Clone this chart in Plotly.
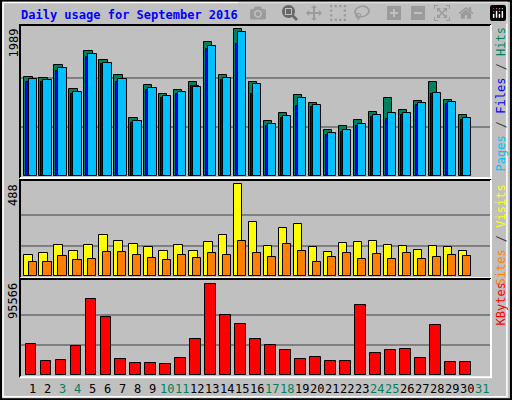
import plotly.graph_objects as go

days = list(range(1, 31))
hits = [1338, 1325, 1501, 1176, 1691, 1569, 1366, 782, 1230, 1108, 1162, 1271, 1813, 1366, 1989,
        1271, 742, 850, 1094, 986, 620, 674, 755, 864, 1054, 891, 1013, 1271, 1027, 823]
files = [1280, 1270, 1430, 1105, 1620, 1517, 1280, 715, 1160, 1055, 1105, 1216, 1720, 1295, 1790,
         1112, 675, 780, 949, 930, 555, 595, 675, 795, 773, 825, 960, 1112, 970, 755]
pages = [1311, 1298, 1460, 1135, 1650, 1528, 1311, 742, 1189, 1081, 1135, 1203, 1759, 1325, 1949,
         1243, 701, 810, 1054, 959, 579, 620, 701, 823, 850, 850, 986, 1121, 999, 782]
visits = [111, 122, 164, 133, 164, 217, 186, 170, 154, 133, 164, 133, 180, 217, 488,
          286, 159, 255, 276, 154, 127, 175, 180, 186, 164, 159, 138, 159, 154, 133]
sites = [74, 74, 106, 85, 90, 127, 127, 111, 95, 85, 111, 95, 122, 111, 186,
         122, 101, 170, 133, 74, 101, 122, 90, 117, 90, 122, 90, 101, 111, 106]
kbytes = [32550, 14700, 15750, 30450, 79800, 60900, 16800, 12600, 12600, 11550, 17850, 37800, 95566, 63000, 53550,
          37800, 31500, 26250, 16800, 18900, 14700, 14700, 73500, 23100, 26250, 27300, 17850, 52500, 13650, 13650]
day_labels = [str(d) for d in range(1, 32)]
weekend = [3, 4, 10, 11, 17, 18, 24, 25, 31]

W, H = 512, 400
def py(p):  # pixel row -> paper y
    return 1 - p / H

GRAY = '#C0C0C0'
MONO = 'DejaVu Sans Mono'

fig = go.Figure()
bar_line = dict(color='black', width=1)

def bars(y, color, offset, width, axis):
    fig.add_trace(go.Bar(x=days, y=y, marker=dict(color=color, line=bar_line),
                         offset=offset, width=width, xaxis='x' + axis, yaxis='y' + axis,
                         showlegend=False, hoverinfo='skip'))

bars(hits, '#00805C', -0.55, 0.55, '')
bars(files, '#0000FF', -0.42, 0.55, '')
bars(pages, '#00C0FF', -0.28, 0.55, '')
bars(visits, '#FFFF00', -0.55, 0.56, '2')
bars(sites, '#FF8000', -0.28, 0.54, '2')
bars(kbytes, '#FF0000', -0.47, 0.72, '3')

xr = [0.152, 31.61]
xdom = [20 / W, 491 / W]
panels = [('', (25, 176), 1989, 2047), ('2', (180, 276.3), 488, 511), ('3', (279, 375.3), 95566, 101130)]
layout = {}
for ax, (top, bot), mx, rmax in panels:
    layout['xaxis' + ax] = dict(domain=xdom, range=xr, showticklabels=False, showgrid=False,
                                zeroline=False, anchor='y' + ax, fixedrange=True)
    layout['yaxis' + ax] = dict(domain=[py(bot), py(top)], range=[0, rmax], tickvals=[mx / 3, 2 * mx / 3],
                                showticklabels=False, gridcolor='#808080', gridwidth=1.5,
                                zeroline=False, anchor='x' + ax)

fig.update_layout(width=W, height=H, margin=dict(l=0, r=0, t=0, b=0), paper_bgcolor=GRAY,
                  plot_bgcolor=GRAY, barmode='overlay', bargap=0, **layout)

shapes = []
# outer 3D border
shapes.append(dict(type='rect', xref='paper', yref='paper', x0=0.002, x1=0.998, y0=0.002, y1=0.998,
                   line=dict(color='black', width=2)))
shapes.append(dict(type='rect', xref='paper', yref='paper', x0=0.006, x1=0.99, y0=0.008, y1=0.994,
                   line=dict(color='white', width=1.5)))
for ax, (top, bot), mx, rmax in panels:
    bottom = bot + 2
    shapes.append(dict(type='path', xref='paper', yref='paper',
                       path=f'M {xdom[0]},{py(bottom)} L {xdom[0]},{py(top)} L {xdom[1]},{py(top)}',
                       line=dict(color='black', width=2)))
    shapes.append(dict(type='path', xref='paper', yref='paper',
                       path=f'M {xdom[1]},{py(top)} L {xdom[1]},{py(bottom)} L {xdom[0]},{py(bottom)}',
                       line=dict(color='white', width=2)))
fig.update_layout(shapes=shapes)

ann = []
ann.append(dict(text='<b>Daily usage for September 2016</b>', x=19 / W, y=py(15), xref='paper', yref='paper',
                xanchor='left', yanchor='middle', showarrow=False, font=dict(family=MONO, size=12, color='#0000FF')))
for ax, (top, bot), mx, rmax in panels:
    ann.append(dict(text=str(mx), x=13 / W, y=py(top + 2), xref='paper', yref='paper', textangle=-90,
                    xanchor='center', yanchor='top', showarrow=False, font=dict(family=MONO, size=12, color='black')))
sl = "<span style='color:#404040'> / </span>"
side = [("<span style='color:#00C0FF'>Pages</span>" + sl + "<span style='color:#0000FF'>Files</span>" + sl +
         "<span style='color:#00805C'>Hits</span>", 25),
        ("<span style='color:#FF8000'>Sites</span>" + sl + "<span style='color:#FFFF00'>Visits</span>", 183),
        ("<span style='color:#FF0000'>KBytes</span>", 281)]
for txt, top in side:
    ann.append(dict(text=txt, x=500 / W, y=py(top), xref='paper', yref='paper', textangle=-90,
                    xanchor='center', yanchor='top', showarrow=False, font=dict(family=MONO, size=12)))
for i, lab in enumerate(day_labels):
    d = i + 1
    ann.append(dict(text=lab, x=d, y=py(389), xref='x3', yref='paper', showarrow=False,
                    xanchor='center', yanchor='middle',
                    font=dict(family=MONO, size=12, color='#00805C' if d in weekend else 'black')))
fig.update_layout(annotations=ann)

fig.write_html("out.html", post_script="document.body.style.margin='0';")
